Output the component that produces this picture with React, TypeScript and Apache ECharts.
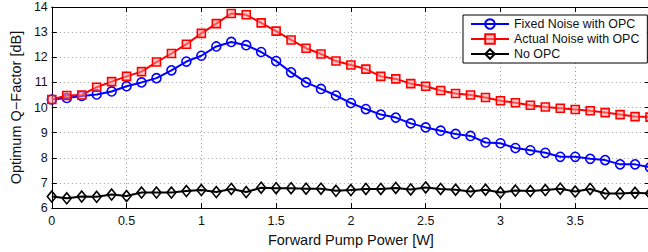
import React, { useEffect, useRef } from "react";
import * as echarts from "echarts";

const xValues = [0, 0.1, 0.2, 0.3, 0.4, 0.5, 0.6, 0.7, 0.8, 0.9, 1.0, 1.1, 1.2, 1.3, 1.4, 1.5, 1.6, 1.7, 1.8, 1.9, 2.0, 2.1, 2.2, 2.3, 2.4, 2.5, 2.6, 2.7, 2.8, 2.9, 3.0, 3.1, 3.2, 3.3, 3.4, 3.5, 3.6, 3.7, 3.8, 3.9, 4.0];

const fixedNoise = [10.32, 10.38, 10.46, 10.52, 10.64, 10.85, 11.0, 11.17, 11.48, 11.83, 12.06, 12.43, 12.61, 12.48, 12.21, 11.85, 11.4, 11.0, 10.74, 10.48, 10.18, 9.94, 9.72, 9.6, 9.37, 9.21, 9.08, 8.95, 8.87, 8.61, 8.58, 8.39, 8.3, 8.2, 8.04, 8.04, 7.96, 7.91, 7.74, 7.74, 7.62];

const actualNoise = [10.32, 10.48, 10.5, 10.81, 11.03, 11.24, 11.43, 11.81, 12.15, 12.52, 12.95, 13.34, 13.74, 13.69, 13.37, 13.04, 12.69, 12.36, 12.13, 11.85, 11.69, 11.53, 11.24, 11.14, 10.95, 10.85, 10.68, 10.56, 10.5, 10.4, 10.27, 10.19, 10.09, 10.02, 9.97, 9.92, 9.87, 9.8, 9.72, 9.64, 9.62];

const noOpc = [6.46, 6.39, 6.46, 6.45, 6.54, 6.48, 6.62, 6.62, 6.62, 6.68, 6.72, 6.64, 6.76, 6.64, 6.81, 6.79, 6.79, 6.77, 6.77, 6.69, 6.72, 6.76, 6.76, 6.8, 6.74, 6.82, 6.76, 6.73, 6.66, 6.73, 6.62, 6.7, 6.68, 6.72, 6.77, 6.66, 6.76, 6.58, 6.58, 6.61, 6.58];

const seriesNames = ["Fixed Noise with OPC", "Actual Noise with OPC", "No OPC"];

const pair = (ys: number[]) => xValues.map((x, i) => [x, ys[i]]);

export default function App() {
  const ref = useRef<HTMLDivElement>(null);
  useEffect(() => {
    if (!ref.current) return;
    const chart = echarts.init(ref.current, undefined, { renderer: "svg" });
    const font = "Liberation Sans, Arial, Helvetica, sans-serif";
    const gridLine = { show: true, lineStyle: { color: "#9a9a9a", type: [1, 3] as any, width: 1 } };
    chart.setOption({
      animation: false,
      backgroundColor: "#ffffff",
      textStyle: { fontFamily: font },
      grid: { left: 50, top: 7, right: 0, bottom: 41, containLabel: false },
      legend: {
        orient: "vertical",
        left: 463,
        top: 15,
        padding: [3, 8, 3, 7],
        itemGap: 3,
        itemWidth: 38,
        itemHeight: 12,
        backgroundColor: "#ffffff",
        borderColor: "#000000",
        borderWidth: 1,
        borderRadius: 0,
        textStyle: { fontSize: 12.4, color: "#111", fontFamily: font },
        data: seriesNames,
      },
      xAxis: [
        {
          type: "value",
          min: 0,
          max: 4,
          interval: 0.5,
          name: "Forward Pump Power [W]",
          nameLocation: "middle",
          nameGap: 22,
          nameTextStyle: { fontSize: 14.5, color: "#111", fontFamily: font },
          axisLine: { show: true, lineStyle: { color: "#000", width: 1 } },
          axisTick: { show: true, inside: true, length: 5, lineStyle: { color: "#000" } },
          axisLabel: { fontSize: 12.5, color: "#111", margin: 6, showMaxLabel: false, fontFamily: font },
          splitLine: gridLine,
        },
        {
          type: "value",
          position: "top",
          min: 0,
          max: 4,
          interval: 0.5,
          axisLine: { show: true, onZero: false, lineStyle: { color: "#000", width: 1 } },
          axisTick: { show: true, inside: true, length: 5, lineStyle: { color: "#000" } },
          axisLabel: { show: false },
          splitLine: { show: false },
        },
      ],
      yAxis: [
        {
          type: "value",
          min: 6,
          max: 14,
          interval: 1,
          name: "Optimum Q\u2212Factor [dB]",
          nameLocation: "middle",
          nameGap: 24,
          nameTextStyle: { fontSize: 14.5, color: "#111", fontFamily: font },
          axisLine: { show: true, lineStyle: { color: "#000", width: 1 } },
          axisTick: { show: true, inside: true, length: 5, lineStyle: { color: "#000" } },
          axisLabel: { fontSize: 12.5, color: "#111", margin: 4, fontFamily: font },
          splitLine: gridLine,
        },
        {
          type: "value",
          position: "right",
          min: 6,
          max: 14,
          interval: 1,
          axisLine: { show: true, onZero: false, lineStyle: { color: "#000", width: 1 } },
          axisTick: { show: true, inside: true, length: 5, lineStyle: { color: "#000" } },
          axisLabel: { show: false },
          splitLine: { show: false },
        },
      ],
      series: [
        {
          name: seriesNames[0],
          type: "line",
          data: pair(fixedNoise),
          symbol: "circle",
          symbolSize: 9,
          lineStyle: { color: "#0000ff", width: 2 },
          itemStyle: { color: "rgba(255,255,255,0)", borderColor: "#0000ff", borderWidth: 1.6 },
          z: 3,
        },
        {
          name: seriesNames[1],
          type: "line",
          data: pair(actualNoise),
          symbol: "rect",
          symbolSize: 8,
          lineStyle: { color: "#ff0000", width: 2 },
          itemStyle: { color: "rgba(255,160,160,0.5)", borderColor: "#ff0000", borderWidth: 1.6 },
          z: 3,
        },
        {
          name: seriesNames[2],
          type: "line",
          data: pair(noOpc),
          symbol: "diamond",
          symbolSize: [9, 11],
          lineStyle: { color: "#000000", width: 2 },
          itemStyle: { color: "rgba(255,255,255,0)", borderColor: "#000000", borderWidth: 1.6 },
          z: 3,
        },
      ],
    });
    return () => chart.dispose();
  }, []);
  return (
    <div
      ref={ref}
      style={{ position: "fixed", left: 0, top: 0, width: 650, height: 252 }}
    />
  );
}
